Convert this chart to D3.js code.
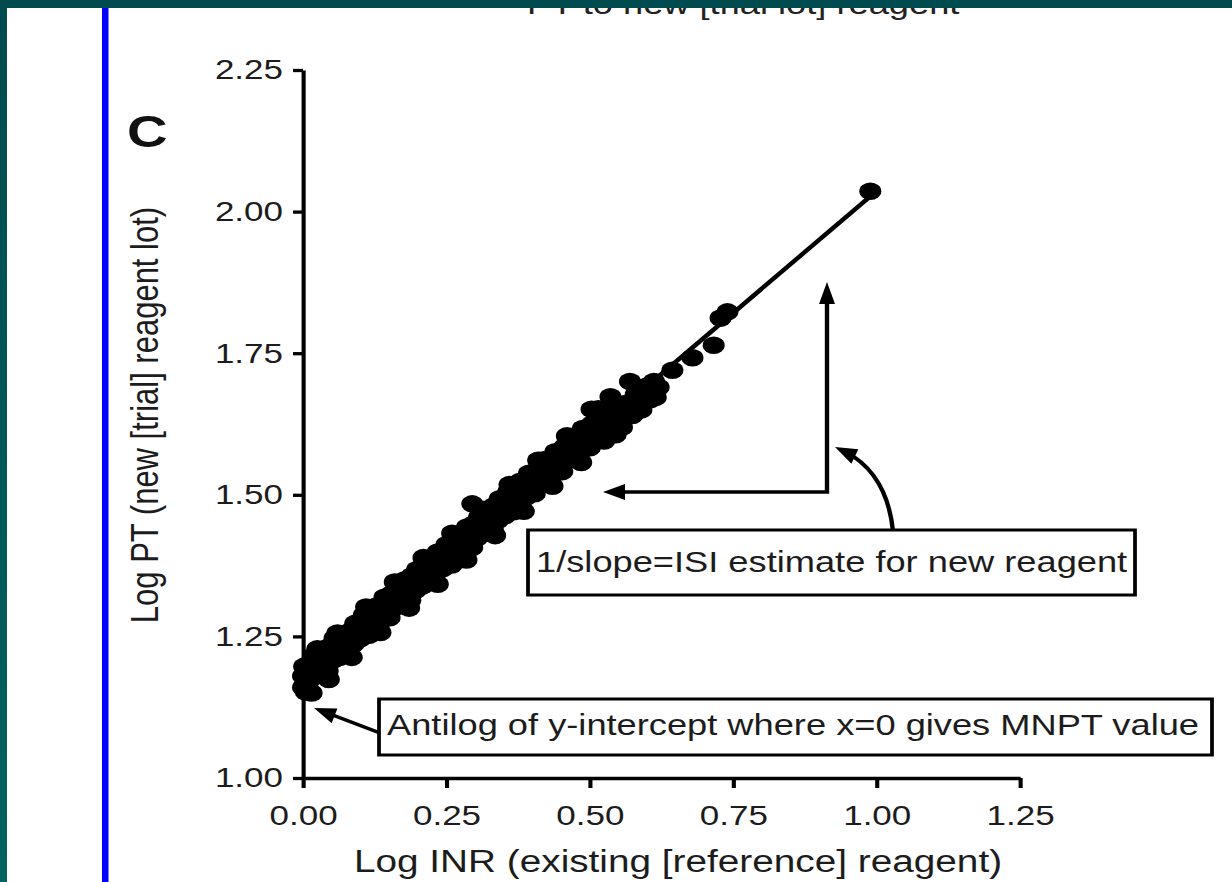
<!DOCTYPE html>
<html><head><meta charset="utf-8">
<script src="https://cdn.jsdelivr.net/npm/d3@7/dist/d3.min.js"></script>
<style>html,body{margin:0;padding:0;background:#014a4d;overflow:hidden}svg{display:block}</style>
</head><body>
<script>
// ---- data ----
const xTicks = [0, 0.25, 0.5, 0.75, 1.0, 1.25];
const yTicks = [1.0, 1.25, 1.5, 1.75, 2.0, 2.25];
const logINR = [
0.000,0.000,0.002,0.004,0.006,0.008,0.010,0.013,0.016,0.019,0.022,0.025,0.028,0.031,0.034,0.037,0.040,0.043,0.046,0.049,0.052,0.055,0.058,0.061,0.064,0.067,0.070,0.073,0.076,0.079,0.082,0.085,0.088,0.091,0.094,0.097,
0.100,0.103,0.106,0.109,0.112,0.115,0.118,0.121,0.124,0.127,0.130,0.133,0.136,0.139,0.142,0.145,0.148,0.151,0.154,0.157,0.160,0.163,0.166,0.169,0.172,
0.175,0.178,0.181,0.184,0.187,0.190,0.193,0.196,0.199,0.202,0.205,0.208,0.211,0.214,0.217,0.220,0.223,0.226,0.229,0.232,0.235,0.238,0.241,
0.244,0.247,0.250,0.253,0.256,0.259,0.262,0.265,0.268,0.271,0.274,0.277,0.280,0.283,0.286,0.289,0.292,0.295,0.298,
0.301,0.304,0.307,0.310,0.313,0.316,0.319,0.322,0.325,0.328,0.331,0.334,0.337,0.340,0.343,0.346,0.349,
0.352,0.355,0.358,0.361,0.364,0.367,0.370,0.373,0.376,0.379,0.382,0.385,0.388,0.391,0.394,0.397,
0.400,0.404,0.408,0.412,0.416,0.420,0.424,0.428,0.432,0.436,0.440,0.444,0.448,
0.452,0.456,0.460,0.464,0.468,0.472,0.476,0.480,0.484,0.488,0.492,0.496,0.500,
0.504,0.508,0.512,0.516,0.520,0.525,0.530,0.535,0.540,0.545,0.550,0.556,0.562,0.568,0.574,0.580,0.586,0.592,0.600,0.606,0.612,0.620,
0.644,0.679,0.716,0.728,0.740,0.989,0.295,0.503,0.536,
0.005,0.015,0.025,0.045,0.060,0.085,0.110,0.135,0.160,0.185,0.210,0.235,0.260,0.285,0.310,0.335,0.360,0.385,0.410,0.435,0.460,0.485,0.515,0.545,0.570,0.590,0.615,0.525,0.555];
const logPT = [
1.160,1.180,1.197,1.167,1.187,1.160,1.201,1.186,1.177,1.216,1.191,1.203,1.184,1.207,1.225,1.199,1.221,1.189,1.232,1.217,1.208,1.247,1.222,1.238,1.213,1.233,1.250,1.221,1.241,1.220,1.259,1.248,1.236,1.273,1.253,1.268,
1.246,1.269,1.288,1.261,1.283,1.252,1.295,1.279,1.269,1.303,1.284,1.300,1.277,1.302,1.319,1.292,1.314,1.283,1.325,1.310,1.301,1.340,1.318,1.333,1.310,
1.331,1.350,1.323,1.346,1.314,1.357,1.341,1.331,1.368,1.346,1.362,1.339,1.364,1.381,1.354,1.376,1.345,1.386,1.372,1.362,1.399,1.377,1.393,
1.370,1.395,1.412,1.385,1.408,1.376,1.418,1.403,1.393,1.430,1.408,1.424,1.401,1.426,1.443,1.416,1.438,1.407,1.449,
1.434,1.424,1.461,1.439,1.455,1.432,1.458,1.475,1.447,1.470,1.438,1.481,1.465,1.455,1.493,1.470,1.486,
1.463,1.488,1.506,1.479,1.501,1.470,1.512,1.496,1.486,1.524,1.502,1.518,1.495,1.520,1.538,1.511,
1.534,1.502,1.544,1.530,1.521,1.562,1.537,1.554,1.530,1.557,1.576,1.549,1.571,
1.541,1.585,1.571,1.562,1.603,1.578,1.595,1.570,1.597,1.617,1.587,1.612,1.583,
1.625,1.612,1.603,1.641,1.617,1.636,1.609,1.638,1.658,1.629,1.652,1.619,1.661,1.647,1.640,1.677,1.660,1.678,1.692,1.668,1.700,1.690,
1.720,1.742,1.764,1.812,1.823,2.036,1.484,1.651,1.673,
1.152,1.150,1.228,1.174,1.256,1.213,1.302,1.257,1.346,1.300,1.389,1.342,1.432,1.385,1.475,1.428,1.518,1.471,1.561,1.515,1.604,1.557,1.652,1.606,1.700,1.650,1.672,1.595,1.622];
const fitX = [0, 0.989];
const fitY = [1.175, 2.027];
const titleText = "PT to new [trial lot] reagent";
const xTitle = "Log INR (existing [reference] reagent)";
const yTitle = "Log PT (new [trial] reagent lot)";
const panelLabel = "C";
const note1 = "1/slope=ISI estimate for new reagent";
const note2 = "Antilog of y-intercept where x=0 gives MNPT value";

// ---- layout (source is horizontally stretched) ----
const SX = 1.25, PW = 1232, PH = 882, W = PW / SX;
const X = px => px / SX;
const FONT = "'Liberation Sans', Arial, Helvetica, sans-serif";

const svg = d3.select("body").append("svg")
  .attr("width", PW).attr("height", PH)
  .attr("viewBox", `0 0 ${W} ${PH}`)
  .attr("preserveAspectRatio", "none");

const defs = svg.append("defs");
const grad = defs.append("linearGradient").attr("id", "bg").attr("x1", 0).attr("y1", 0).attr("x2", 0).attr("y2", 1);
grad.append("stop").attr("offset", "0%").attr("stop-color", "#004b4f");
grad.append("stop").attr("offset", "100%").attr("stop-color", "#026360");
svg.append("rect").attr("width", W).attr("height", PH).attr("fill", "url(#bg)");
svg.append("rect").attr("x", X(7)).attr("y", 8).attr("width", W - X(7)).attr("height", PH - 8).attr("fill", "#ffffff");

// title (its top is hidden under the band, as in the source)
svg.append("text").attr("x", X(527)).attr("y", 14).attr("font-family", FONT).attr("font-size", 29)
  .attr("fill", "#222").text(titleText);
svg.append("rect").attr("x", 0).attr("y", 0).attr("width", W).attr("height", 8).attr("fill", "#004b4f");

// blue vertical bar
svg.append("rect").attr("x", X(102)).attr("y", 8).attr("width", X(6.5)).attr("height", PH - 8).attr("fill", "#0000ff");

const x = d3.scaleLinear().domain([0, 1.25]).range([X(303), X(1020)]);
const y = d3.scaleLinear().domain([1, 2.25]).range([778, 70]);

const fmt = d3.format(".2f");
const gx = svg.append("g").attr("transform", `translate(0,${y(1)})`)
  .call(d3.axisBottom(x).tickValues(xTicks).tickFormat(fmt).tickSize(10).tickSizeOuter(0).tickPadding(17));
const gy = svg.append("g").attr("transform", `translate(${x(0)},0)`)
  .call(d3.axisLeft(y).tickValues(yTicks).tickFormat(fmt).tickSize(8).tickSizeOuter(0).tickPadding(8));
[gx, gy].forEach(g => {
  g.attr("font-family", FONT).attr("font-size", 28);
  g.selectAll("path,line").attr("stroke", "#000").attr("stroke-width", 3.3);
  g.selectAll("text").attr("fill", "#1c1c1c");
});

// axis titles
svg.append("text").attr("x", X(678)).attr("y", 872).attr("text-anchor", "middle")
  .attr("font-family", FONT).attr("font-size", 31).attr("fill", "#1c1c1c").text(xTitle);
svg.append("text").attr("transform", `translate(${X(158)},415) rotate(-90)`).attr("text-anchor", "middle")
  .attr("font-family", FONT).attr("font-size", 31).attr("fill", "#1c1c1c").text(yTitle);
svg.append("text").attr("x", X(127)).attr("y", 147).attr("font-family", FONT).attr("font-size", 45)
  .attr("font-weight", "bold").attr("fill", "#111").text(panelLabel);

// regression line
svg.append("path")
  .attr("d", d3.line().x(d => x(d[0])).y(d => y(d[1]))(fitX.map((v, i) => [v, fitY[i]])))
  .attr("fill", "none").attr("stroke", "#000").attr("stroke-width", 4);

// points
svg.append("g").selectAll("circle").data(logINR.map((v, i) => [v, logPT[i]])).join("circle")
  .attr("cx", d => x(d[0])).attr("cy", d => y(d[1])).attr("r", 8.8).attr("fill", "#000");

// ---- annotations (pixel coordinates) ----
function head(tx, ty, fx, fy, len = 22, hw = 8) {
  const dx = tx - fx, dy = ty - fy, L = Math.hypot(dx, dy), ux = dx / L, uy = dy / L;
  const bx = tx - ux * len, by = ty - uy * len, nx = -uy, ny = ux;
  const pts = [[tx, ty], [bx + nx * hw, by + ny * hw], [bx - nx * hw, by - ny * hw]];
  svg.append("polygon").attr("points", pts.map(p => `${X(p[0])},${p[1]}`).join(" ")).attr("fill", "#000");
}
const ann = svg.append("g").attr("fill", "none").attr("stroke", "#000").attr("stroke-width", 3.5);
// L-shaped arrows
ann.append("path").attr("d", `M${X(615)},492 H${X(827)} V295`);
head(603, 492, 640, 492);
head(827, 282, 827, 320);
// curved arrow
ann.append("path").attr("d", `M${X(893)},531 Q${X(887)},474 ${X(846)},452`);
head(835, 447, 858, 458);
// antilog arrow
ann.append("path").attr("d", `M${X(380)},733 L${X(330)},714`);
head(314, 708, 340, 718);

// boxes
function box(x0, y0, x1, y1, tx, ty, txt) {
  svg.append("rect").attr("x", X(x0)).attr("y", y0).attr("width", X(x1 - x0)).attr("height", y1 - y0)
    .attr("fill", "#fff").attr("stroke", "#000").attr("stroke-width", 3);
  svg.append("text").attr("x", X(tx)).attr("y", ty).attr("font-family", FONT).attr("font-size", 29)
    .attr("fill", "#1c1c1c").text(txt);
}
box(528, 530, 1135, 595, 536, 572, note1);
box(379, 699, 1212, 755, 387, 735, note2);
</script>
</body></html>
